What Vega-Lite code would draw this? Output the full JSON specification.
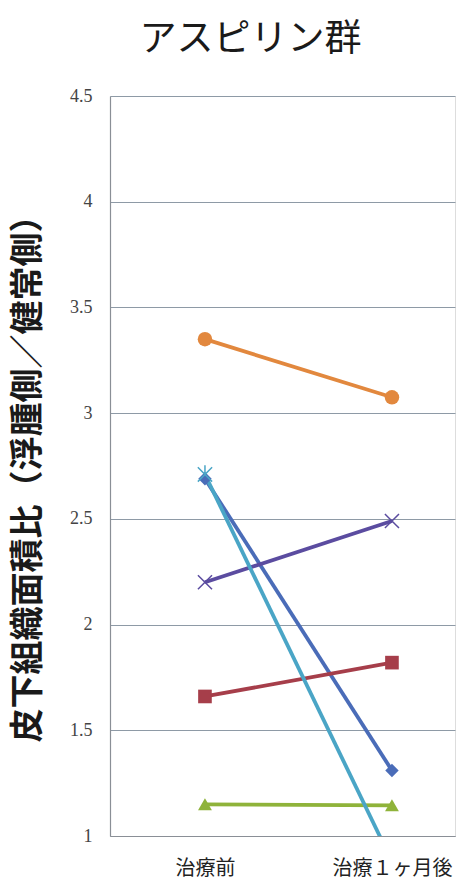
{
  "$schema": "https://vega.github.io/schema/vega-lite/v6.json",
  "autosize": {"type": "none"},
  "padding": {"left": 110, "top": 96, "right": 6, "bottom": 53},
  "width": 345,
  "height": 740,
  "background": "white",
  "title": {
    "text": "アスピリン群",
    "font": "Noto Sans CJK JP",
    "fontSize": 37,
    "fontWeight": "normal",
    "color": "#1a1a1a",
    "anchor": "middle",
    "frame": "group",
    "dx": -32,
    "offset": 28
  },
  "data": {
    "values": [
      {"series": "A", "time": "治療前", "value": 2.69},
      {"series": "A", "time": "治療１ヶ月後", "value": 1.31},
      {"series": "B", "time": "治療前", "value": 1.66},
      {"series": "B", "time": "治療１ヶ月後", "value": 1.82},
      {"series": "C", "time": "治療前", "value": 1.15},
      {"series": "C", "time": "治療１ヶ月後", "value": 1.145},
      {"series": "D", "time": "治療前", "value": 2.2},
      {"series": "D", "time": "治療１ヶ月後", "value": 2.49},
      {"series": "E", "time": "治療前", "value": 2.71},
      {"series": "E", "time": "治療１ヶ月後", "value": 0.88},
      {"series": "F", "time": "治療前", "value": 3.35},
      {"series": "F", "time": "治療１ヶ月後", "value": 3.075}
    ]
  },
  "encoding": {
    "x": {
      "field": "time",
      "type": "nominal",
      "sort": ["治療前", "治療１ヶ月後"],
      "scale": {"type": "point", "padding": 0.4225, "align": 0.601},
      "axis": {
        "title": null,
        "labelAngle": 0,
        "labelFont": "Noto Sans CJK JP",
        "labelFontSize": 20,
        "labelColor": "#222",
        "labelPadding": 22,
        "ticks": false,
        "tickSize": 0,
        "domainColor": "#8a8f96",
        "domainWidth": 1.2
      }
    },
    "y": {
      "field": "value",
      "type": "quantitative",
      "scale": {"domain": [1, 4.5], "nice": false, "zero": false},
      "axis": {
        "values": [1, 1.5, 2, 2.5, 3, 3.5, 4, 4.5],
        "labelExpr": "datum.value",
        "title": "皮下組織面積比（浮腫側／健常側）",
        "titleFont": "Noto Sans CJK JP",
        "titleFontSize": 34,
        "titleFontWeight": "bold",
        "titleColor": "#1a1a1a",
        "titleAngle": -90,
        "titleX": -82,
        "titleY": 374,
        "titleAlign": "center",
        "titleBaseline": "middle",
        "labelFont": "Liberation Serif",
        "labelFontSize": 18,
        "labelColor": "#444",
        "labelPadding": 18,
        "ticks": false,
        "tickSize": 0,
        "grid": true,
        "gridColor": "#8e9aa6",
        "gridWidth": 1,
        "domainColor": "#8a8f96",
        "domainWidth": 1.2
      }
    },
    "color": {
      "field": "series",
      "type": "nominal",
      "scale": {
        "domain": ["A", "B", "C", "D", "E", "F"],
        "range": ["#4a6cb8", "#a63e4a", "#8fb33a", "#5b4ca0", "#4aa5c6", "#e2883e"]
      },
      "legend": null
    }
  },
  "layer": [
    {
      "mark": {"type": "line", "strokeWidth": 3.8, "clip": true},
      "encoding": {"detail": {"field": "series"}}
    },
    {
      "transform": [{"filter": "indexof(['A','B','C','F'], datum.series) >= 0"}],
      "mark": {"type": "point", "filled": true, "opacity": 1, "clip": true},
      "encoding": {
        "shape": {
          "field": "series",
          "type": "nominal",
          "scale": {"domain": ["A", "B", "C", "D", "E", "F"], "range": ["diamond", "square", "triangle-up", "M-1,-1L1,1M-1,1L1,-1", "M-1,-1L1,1M-1,1L1,-1M0,-1.3L0,0", "circle"]},
          "legend": null
        },
        "size": {
          "field": "series",
          "type": "nominal",
          "scale": {"domain": ["A", "B", "C", "D", "E", "F"], "range": [180, 210, 230, 190, 190, 220]},
          "legend": null
        }
      }
    },
    {
      "transform": [{"filter": "indexof(['D','E'], datum.series) >= 0"}],
      "mark": {"type": "point", "filled": false, "opacity": 1, "strokeWidth": 1.5, "clip": true},
      "encoding": {
        "shape": {
          "field": "series",
          "type": "nominal",
          "scale": {"domain": ["A", "B", "C", "D", "E", "F"], "range": ["diamond", "square", "triangle-up", "M-1,-1L1,1M-1,1L1,-1", "M-1,-1L1,1M-1,1L1,-1M0,-1.3L0,0", "circle"]},
          "legend": null
        },
        "size": {
          "field": "series",
          "type": "nominal",
          "scale": {"domain": ["A", "B", "C", "D", "E", "F"], "range": [180, 210, 230, 190, 190, 220]},
          "legend": null
        }
      }
    }
  ]
}
